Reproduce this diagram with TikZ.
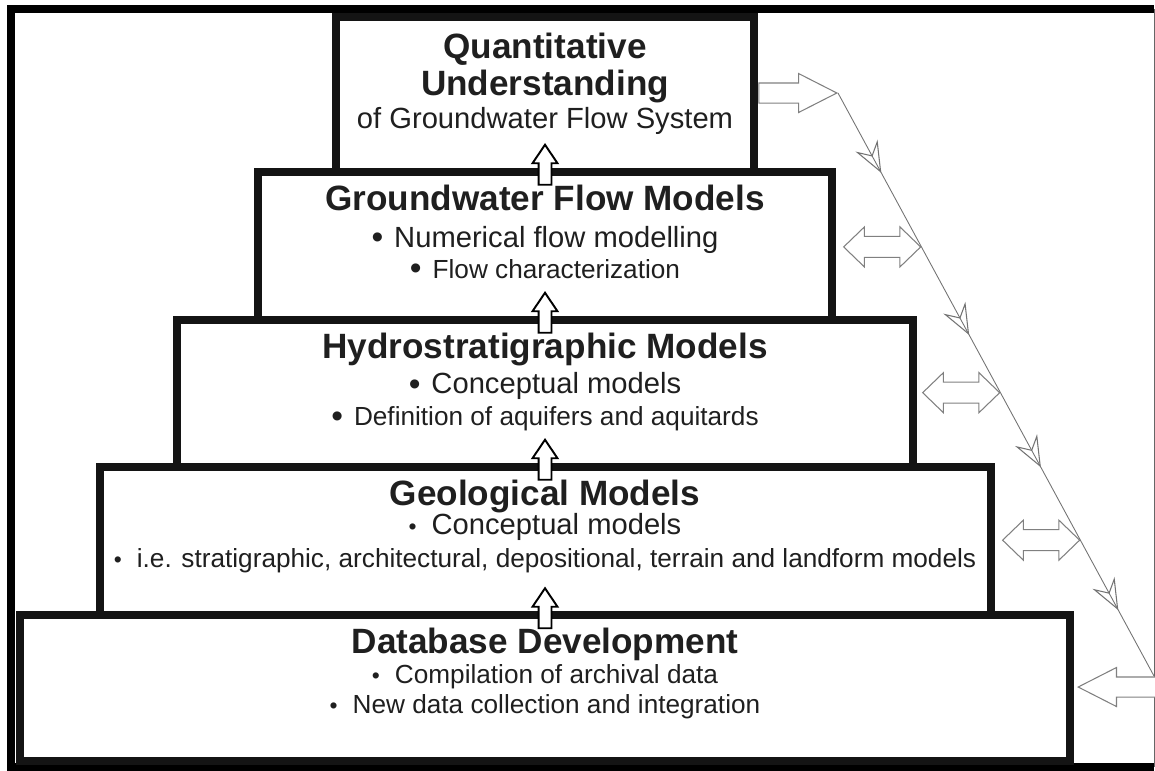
\documentclass[tikz,border=0pt]{standalone}
\usepackage{fontspec}
\setmainfont{Liberation Sans}
\usetikzlibrary{positioning,calc,shapes.arrows,arrows.meta,decorations.markings}

\newcommand\tierhead[1]{{\fontsize{20}{22}\selectfont\bfseries #1}}
\newcommand\bigbul{\raisebox{-0.03cm}{\fontsize{19}{18}\selectfont•}\hspace{0.22cm}}
\newcommand\smallbul{{\fontsize{13}{13}\selectfont•}\hspace{0.3cm}}
\newcommand\minor{\fontsize{14.9}{16}\selectfont}
\newcommand\feedtip{\arrow{Stealth[open,length=0.62cm,width=0.5cm,inset=0.22cm,line width=0.6pt]}}

\tikzset{
  tier/.style={draw=black!92, line width=0.16cm, outer sep=0pt, inner sep=0pt},
  tiertext/.style={anchor=north, align=center, inner sep=0pt, text=black!88,
    font=\fontsize{16.6}{18.6}\selectfont},
  uparr/.style={single arrow, draw=black, fill=white, line width=1.1pt, anchor=tip,
    shape border rotate=90, minimum height=0.8cm, minimum width=0.46cm, inner sep=0.11cm,
    single arrow head extend=0.12cm, single arrow tip angle=68},
  sidearr/.style={single arrow, draw=black!50, fill=white, line width=0.6pt, anchor=tip,
    minimum height=1.56cm, minimum width=0.76cm, inner sep=0.19cm,
    single arrow head extend=0.19cm, single arrow tip angle=54},
  bothway/.style={double arrow, draw=black!50, fill=white, line width=0.6pt,
    minimum height=1.54cm, minimum width=0.78cm, inner sep=0.2cm,
    double arrow head extend=0.19cm, double arrow tip angle=88},
  feedline/.style={draw=black!55, line width=0.5pt, postaction={decorate},
    decoration={markings,
      mark=at position 0.137 with {\feedtip},
      mark=at position 0.415 with {\feedtip},
      mark=at position 0.642 with {\feedtip},
      mark=at position 0.887 with {\feedtip}}},
}

\begin{document}
\begin{tikzpicture}
	\useasboundingbox (0,0) rectangle (23.1,-15.4);

	% outer frame
	\draw[line width=0.16cm, black] (23.08,-0.18) -- (0.22,-0.18) -- (0.22,-15.33) -- (23.08,-15.33);
	\draw[black!60, line width=0.5pt] (23.08,-0.18) -- (23.08,-15.33);

	% the five tiers, stacked
	\node[tier, minimum width=8.36cm, minimum height=3.11cm] (quant) at (10.9,-1.885) {};
	\node[tier, minimum width=11.48cm, minimum height=2.96cm, below=0pt of quant] (gwflow) {};
	\node[tier, minimum width=14.71cm, minimum height=2.94cm, below=0pt of gwflow] (hydro) {};
	\node[tier, minimum width=17.82cm, minimum height=2.95cm, below=0pt of hydro] (geol) {};
	\node[tier, minimum width=21.01cm, minimum height=2.93cm, below=0pt of geol] (dbase) {};

	\node[tiertext] (quanttext) at ([yshift=-0.32cm]quant.north)
		{\tierhead{Quantitative}\\[0.08cm] \tierhead{Understanding}\\[0.01cm] of Groundwater Flow System};
	\node[tiertext] (gwflowtext) at ([yshift=-0.26cm]gwflow.north)
		{\tierhead{Groundwater Flow Models}\\[0.07cm] \bigbul Numerical flow modelling\\[-0.03cm] {\bigbul\minor Flow characterization}};
	\node[tiertext] (hydrotext) at ([yshift=-0.26cm]hydro.north)
		{\tierhead{Hydrostratigraphic Models}\\[0.04cm] \bigbul Conceptual models\\[-0.01cm] {\bigbul\minor Definition of aquifers and aquitards}};
	\node[tiertext] (geoltext) at ([yshift=-0.26cm]geol.north)
		{\tierhead{Geological Models}\\[-0.08cm] \smallbul Conceptual models\\[0cm]
		{\minor\smallbul i.e. stratigraphic, architectural, depositional, terrain and landform models}};
	\node[tiertext, font=\fontsize{14.9}{17.1}\selectfont] (dbasetext) at ([yshift=-0.26cm]dbase.north)
		{\tierhead{Database Development}\\ \smallbul Compilation of archival data\\ \smallbul New data collection and integration};

	% hollow arrows between the tiers
	\node[uparr] (up1) at ([yshift=0.58cm]quant.south) {};
	\node[uparr] (up2) at ([yshift=0.58cm]gwflow.south) {};
	\node[uparr] (up3) at ([yshift=0.58cm]hydro.south) {};
	\node[uparr] (up4) at ([yshift=0.56cm]geol.south) {};

	% feedback path on the right
	\coordinate (fbtop) at (16.76,-1.86);
	\coordinate (fbbot) at (23.08,-13.52);
	\node[sidearr] (outarr) at (fbtop) {};
	\node[sidearr, shape border rotate=180] (backarr) at (21.54,-13.74) {};
	\node[bothway, anchor=east] (link1) at ($(fbtop)!0.264!(fbbot)$) {};
	\node[bothway, anchor=east] (link2) at ($(fbtop)!0.514!(fbbot)$) {};
	\node[bothway, anchor=east] (link3) at ($(fbtop)!0.767!(fbbot)$) {};
	\draw[feedline] (fbtop) -- (fbbot);
\end{tikzpicture}
\end{document}
